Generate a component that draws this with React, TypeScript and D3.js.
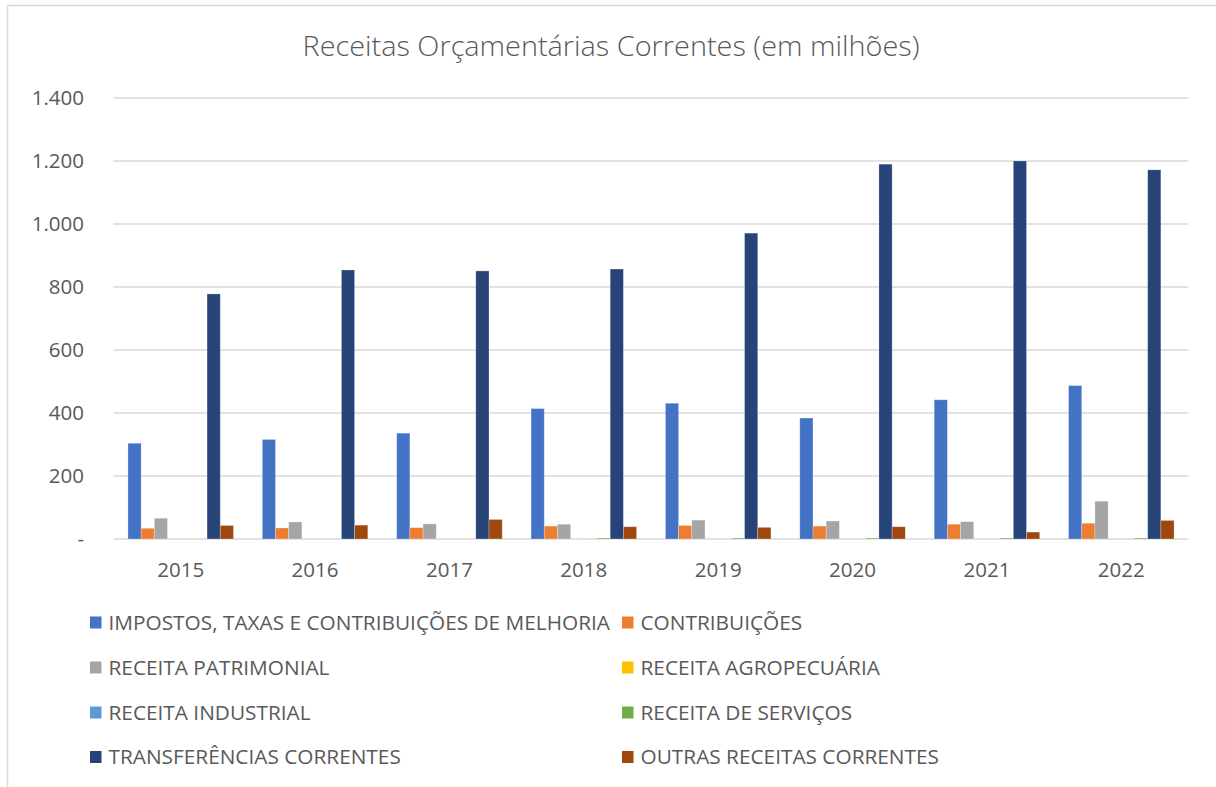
import React from "react";
import * as d3 from "d3";

const years = ["2015", "2016", "2017", "2018", "2019", "2020", "2021", "2022"];

const seriesNames = [
  "IMPOSTOS, TAXAS E CONTRIBUIÇÕES DE MELHORIA",
  "CONTRIBUIÇÕES",
  "RECEITA PATRIMONIAL",
  "RECEITA AGROPECUÁRIA",
  "RECEITA INDUSTRIAL",
  "RECEITA DE SERVIÇOS",
  "TRANSFERÊNCIAS CORRENTES",
  "OUTRAS RECEITAS CORRENTES",
];

const impostos = [304, 316, 336, 414, 431, 384, 442, 487];
const contribuicoes = [34, 35, 36, 41, 43, 41, 47, 50];
const patrimonial = [66, 54, 48, 47, 60, 57, 55, 120];
const agropecuaria = [0, 0, 0, 1, 0, 0, 0, 0];
const industrial = [0, 0, 0, 0, 0, 0, 0, 0];
const servicos = [0, 0, 0, 3, 3, 3, 3, 3];
const transferencias = [778, 854, 851, 857, 971, 1190, 1200, 1172];
const outras = [43, 44, 62, 39, 37, 39, 22, 59];

const seriesValues = [
  impostos,
  contribuicoes,
  patrimonial,
  agropecuaria,
  industrial,
  servicos,
  transferencias,
  outras,
];

const colors = [
  "#4472C4",
  "#ED7D31",
  "#A5A5A5",
  "#FFC000",
  "#5B9BD5",
  "#70AD47",
  "#264478",
  "#9E480E",
];

const yTicks = [0, 200, 400, 600, 800, 1000, 1200, 1400];
const title = "Receitas Orçamentárias Correntes (em milhões)";

const W = 1216;
const H = 787;
const FONT = "'Open Sans', 'Noto Sans', sans-serif";
const TEXT = "#595959";
const GRID = "#d9d9d9";

export default function App() {
  const x0 = d3.scaleBand<string>().domain(years).range([113.5, 1188.5]).padding(0);
  const step = x0.bandwidth();
  const barW = step / (seriesNames.length + 2.19);
  const groupW = barW * seriesNames.length;
  const x1 = d3
    .scaleBand<number>()
    .domain(d3.range(seriesNames.length))
    .range([0, groupW])
    .padding(0);
  const y = d3.scaleLinear().domain([0, 1400]).range([539, 98]);
  const fmt = (v: number) =>
    v === 0 ? "-" : d3.format(",")(v).replace(/,/g, ".");

  const legendCols = [90, 622];
  const legendRows = [622.5, 667.5, 712.5, 757];

  return (
    <svg
      width={W}
      height={H}
      style={{ position: "absolute", left: 0, top: 0, background: "#fff" }}
      fontFamily={FONT}
    >
      <rect x={0} y={0} width={W} height={H} fill="#fff" />
      <line x1={7.5} y1={5.5} x2={W} y2={5.5} stroke={GRID} strokeWidth={1.5} />
      <line x1={7.5} y1={5.5} x2={7.5} y2={H} stroke={GRID} strokeWidth={1.5} />

      <text
        x={611}
        y={56}
        textAnchor="middle"
        fontSize={27}
        fontWeight={300}
        fill={TEXT}
        textLength={617}
        lengthAdjust="spacingAndGlyphs"
      >
        {title}
      </text>

      {yTicks.map((t) => (
        <g key={t}>
          <line
            x1={113.5}
            x2={1188.5}
            y1={y(t)}
            y2={y(t)}
            stroke={GRID}
            strokeWidth={1.5}
          />
          <text
            x={84}
            y={y(t)}
            dy="0.35em"
            textAnchor="end"
            fontSize={20.5}
            fill={TEXT}
          >
            {fmt(t)}
          </text>
        </g>
      ))}

      {years.map((yr, i) => (
        <g key={yr} transform={`translate(${(x0(yr) as number) + (step - groupW) / 2},0)`}>
          {seriesValues.map((vals, s) => {
            const v = vals[i];
            if (v <= 0) return null;
            const top = y(v);
            return (
              <rect
                key={s}
                x={x1(s) as number}
                y={top}
                width={x1.bandwidth()}
                height={y(0) - top}
                fill={colors[s]}
                stroke="#ffffff"
                strokeOpacity={0.35}
                strokeWidth={0.75}
              />
            );
          })}
        </g>
      ))}

      {years.map((yr) => (
        <text
          key={yr}
          x={(x0(yr) as number) + step / 2}
          y={577}
          textAnchor="middle"
          fontSize={20.5}
          fill={TEXT}
        >
          {yr}
        </text>
      ))}

      {seriesNames.map((name, s) => {
        const col = s % 2;
        const row = Math.floor(s / 2);
        const lx = legendCols[col];
        const ly = legendRows[row];
        return (
          <g key={name}>
            <rect x={lx} y={ly - 6} width={11.5} height={12} fill={colors[s]} />
            <text x={lx + 18.5} y={ly} dy="0.36em" fontSize={20.8} fill={TEXT}>
              {name}
            </text>
          </g>
        );
      })}
    </svg>
  );
}
